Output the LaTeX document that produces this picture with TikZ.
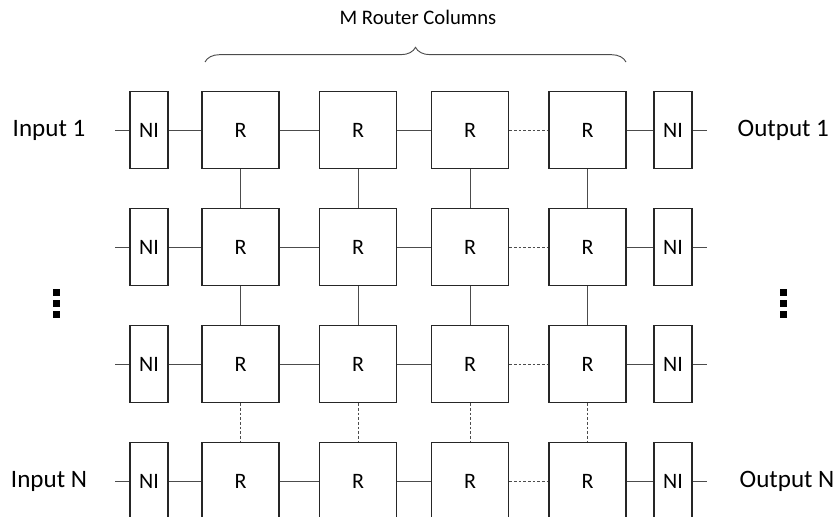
\documentclass[tikz,border=0pt]{standalone}
\usepackage{fontspec}
\setmainfont{Carlito}
\usetikzlibrary{decorations.pathreplacing}

\begin{document}
\begin{tikzpicture}[
    x=0.75pt, y=-0.75pt,
    router/.style={rectangle, draw=black!85, line width=1pt, minimum width=57.75pt, minimum height=57.75pt, inner sep=0pt, font=\fontsize{16.5}{19}\selectfont},
    netif/.style={router, minimum width=28.5pt},
    link/.style={draw=black!70, line width=0.7pt},
    dashlink/.style={link, dash pattern=on 2pt off 1.5pt},
    iolabel/.style={font=\fontsize{18.8}{22}\selectfont},
    dotbox/.style={fill=black}
]
\clip (0,0) rectangle (840,517);

% rows of the mesh
\foreach \row/\y in {1/130,2/247,3/364,4/481} {
  \node[netif] (ni-in-\row) at (149,\y) {NI};
  \foreach \col/\x in {1/240.5,2/358,3/470,4/587.5}
    \node[router] (r-\row-\col) at (\x,\y) {R};
  \node[netif] (ni-out-\row) at (673,\y) {NI};
  \coordinate (in-\row) at (115,\y);
  \coordinate (out-\row) at (707,\y);
  \draw[link] (in-\row) -- (ni-in-\row);
  \draw[link] (ni-in-\row) -- (r-\row-1);
  \draw[link] (r-\row-1) -- (r-\row-2);
  \draw[link] (r-\row-2) -- (r-\row-3);
  \draw[dashlink] (r-\row-3) -- (r-\row-4);
  \draw[link] (r-\row-4) -- (ni-out-\row);
  \draw[link] (ni-out-\row) -- (out-\row);
}

% columns
\foreach \col in {1,...,4} {
  \draw[link] (r-1-\col) -- (r-2-\col);
  \draw[link] (r-2-\col) -- (r-3-\col);
  \draw[dashlink] (r-3-\col) -- (r-4-\col);
}

% inputs and outputs
\node[iolabel] (lbl-in-1) at (49,130) {Input 1};
\node[iolabel] (lbl-in-n) at (49,481) {Input N};
\node[iolabel, anchor=west] (lbl-out-1) at (733,130) {Output 1};
\node[iolabel, anchor=west] (lbl-out-n) at (735,481) {Output N};

% vertical dots
\foreach \y in {289,300,311} {
  \fill[dotbox] (53,\y) rectangle ++(7,7);
  \fill[dotbox] (780,\y) rectangle ++(7,7);
}

% brace over the router columns
\coordinate (brace-a) at (205,62);
\coordinate (brace-b) at (626,62);
\draw[link, decorate, decoration={brace, amplitude=11pt}] (brace-a) -- (brace-b);
\node[font=\fontsize{15.5}{18}\selectfont] (cols) at (418,17) {M Router Columns};
\end{tikzpicture}
\end{document}
